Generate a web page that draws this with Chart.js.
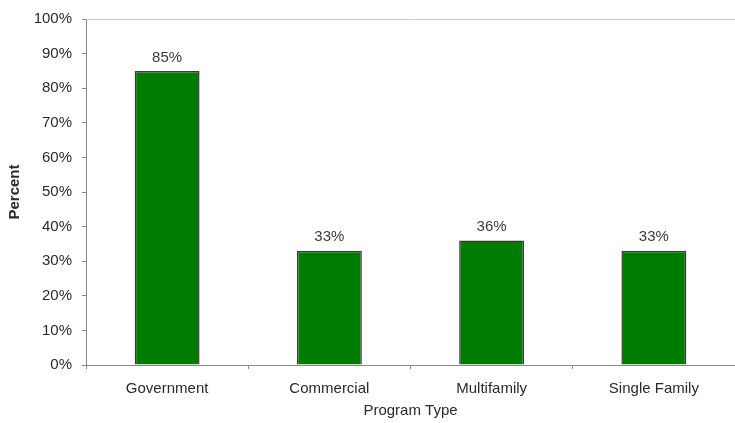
<!DOCTYPE html>
<html>
<head>
<meta charset="utf-8">
<script src="https://cdn.jsdelivr.net/npm/chart.js@4/dist/chart.umd.min.js"></script>
<style>
  html, body { margin: 0; padding: 0; background: #fff; }
  canvas { display: block; }
</style>
</head>
<body>
<canvas id="c" width="735" height="423"></canvas>
<script>
// program types and share (percent)
const categories = ['Government', 'Commercial', 'Multifamily', 'Single Family'];
const percents = [85, 33, 36, 33];
const yTicks = [0, 10, 20, 30, 40, 50, 60, 70, 80, 90, 100];

const axisGray = '#8a8a8a';
const textColor = '#2a2a2a';
const family = 'Liberation Sans, Arial, sans-serif';
const font = { family, size: 15 };

// value labels above bars + top border of the plot area
const extras = {
  id: 'extras',
  afterDatasetsDraw(chart) {
    const ctx = chart.ctx, a = chart.chartArea;
    ctx.save();
    ctx.strokeStyle = '#c8c8c8';
    ctx.lineWidth = 1;
    ctx.beginPath();
    ctx.moveTo(a.left, a.top + 0.5);
    ctx.lineTo(a.right, a.top + 0.5);
    ctx.stroke();
    ctx.fillStyle = '#3a3a3a';
    ctx.font = '15px ' + family;
    ctx.textAlign = 'center';
    ctx.textBaseline = 'bottom';
    chart.getDatasetMeta(0).data.forEach((bar, i) => {
      ctx.fillText(percents[i] + '%', bar.x, bar.y - 6);
    });
    ctx.restore();
  }
};

new Chart(document.getElementById('c'), {
  type: 'bar',
  data: {
    labels: categories,
    datasets: [{
      data: percents,
      backgroundColor: '#007d00',
      borderColor: '#3a3a3a',
      borderWidth: 1.5,
      barPercentage: 0.8,
      categoryPercentage: 0.5
    }]
  },
  options: {
    responsive: false,
    animation: false,
    layout: { padding: { top: 19, right: 0, left: 0, bottom: 0 } },
    plugins: { legend: { display: false }, tooltip: { enabled: false } },
    scales: {
      x: {
        offset: true,
        grid: { offset: true, drawOnChartArea: false, drawTicks: true, tickLength: 4, color: axisGray },
        border: { color: axisGray, width: 1 },
        ticks: { color: textColor, font, padding: 11 },
        title: { display: true, text: 'Program Type', color: textColor, font, padding: { top: 4, bottom: 3 } },
        afterFit(s) { s.height = 58; }
      },
      y: {
        min: 0, max: 100,
        afterBuildTicks(s) { s.ticks = yTicks.map(v => ({ value: v })); },
        grid: { drawOnChartArea: false, drawTicks: true, tickLength: 4, color: axisGray },
        border: { color: axisGray, width: 1 },
        ticks: { color: textColor, font, padding: 10, callback: v => v + '%' },
        title: { display: true, text: 'Percent', color: textColor, font: { family, size: 15, weight: 'bold' }, padding: { top: 6, bottom: 4 } },
        afterFit(s) { s.width = 86; }
      }
    }
  },
  plugins: [extras]
});
</script>
</body>
</html>
